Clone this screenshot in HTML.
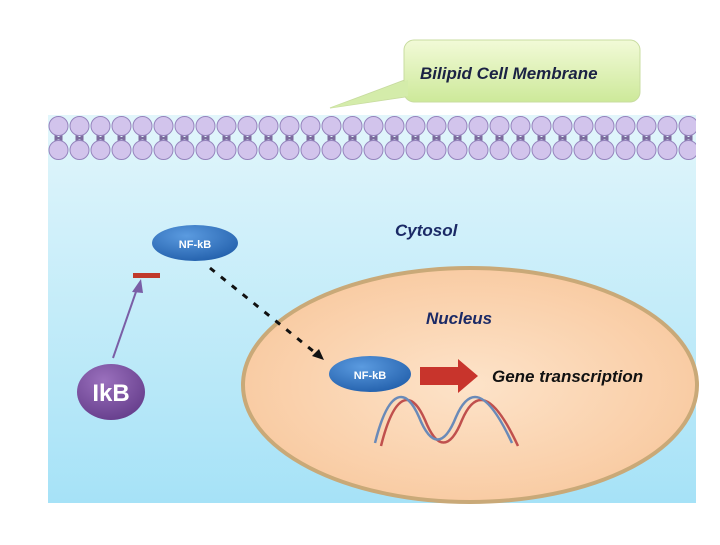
<!DOCTYPE html>
<html><head><style>body{margin:0;background:#fff}</style></head><body>
<svg width="720" height="540" xmlns="http://www.w3.org/2000/svg" font-family="Liberation Sans, sans-serif">
<defs>
<linearGradient id="bg" x1="0" y1="0" x2="0" y2="1"><stop offset="0" stop-color="#e2f6fb"/><stop offset="1" stop-color="#a6e2f7"/></linearGradient>
<radialGradient id="nuc" cx="0.5" cy="0.5" r="0.6"><stop offset="0" stop-color="#fde3c9"/><stop offset="1" stop-color="#f8c79c"/></radialGradient>
<linearGradient id="cal" x1="0" y1="0" x2="0" y2="1"><stop offset="0" stop-color="#f2fad8"/><stop offset="1" stop-color="#cde99a"/></linearGradient>
<radialGradient id="blue" cx="0.4" cy="0.3" r="0.8"><stop offset="0" stop-color="#5b9be0"/><stop offset="1" stop-color="#1f5ca8"/></radialGradient>
<radialGradient id="pur" cx="0.4" cy="0.3" r="0.8"><stop offset="0" stop-color="#9a70bd"/><stop offset="1" stop-color="#623a88"/></radialGradient>
<pattern id="lip" x="48" y="0" width="21" height="200" patternUnits="userSpaceOnUse">
<rect x="6.5" y="132" width="3" height="12" fill="#7d6c9e"/><rect x="11.5" y="132" width="3" height="12" fill="#7d6c9e"/><rect x="6.5" y="137" width="8" height="2.5" fill="#7d6c9e"/>
<circle cx="10.5" cy="126" r="9.5" fill="#d2c4ec" stroke="#9584bd" stroke-width="1"/>
<circle cx="10.5" cy="150" r="9.5" fill="#d2c4ec" stroke="#9584bd" stroke-width="1"/>
</pattern>
</defs>
<rect x="48" y="115" width="648" height="388" fill="url(#bg)"/>
<rect x="40" y="110" width="660" height="52" fill="url(#lip)"/>
<rect x="0" y="110" width="48" height="60" fill="#fff"/>
<rect x="696" y="110" width="30" height="60" fill="#fff"/>
<path d="M330,108 L410,78 L412,96 Z" fill="#d9efb1" stroke="#c8dca0"/>
<rect x="404" y="40" width="236" height="62" rx="10" fill="url(#cal)" stroke="#c8dca0"/>
<path d="M330,108 L408,80 L408,96 Z" fill="#d4ecaa"/>
<text x="420" y="79" font-size="17" font-weight="bold" font-style="italic" fill="#1b2244">Bilipid Cell Membrane</text>
<text x="395" y="236" font-size="17" font-weight="bold" font-style="italic" fill="#1b2a66">Cytosol</text>
<ellipse cx="470" cy="385" rx="227" ry="117" fill="url(#nuc)" stroke="#c9a978" stroke-width="4"/>
<text x="426" y="324" font-size="17" font-weight="bold" font-style="italic" fill="#1b2a66">Nucleus</text>
<ellipse cx="195" cy="243" rx="43" ry="18" fill="url(#blue)"/>
<text x="195" y="248" font-size="11" font-weight="bold" fill="#fff" text-anchor="middle">NF-kB</text>
<rect x="133" y="273" width="27" height="5" fill="#c0392b"/>
<line x1="113" y1="358" x2="138" y2="286" stroke="#7a5ea6" stroke-width="2"/>
<path d="M141,279 L132,292 L143,293 Z" fill="#7a5ea6"/>
<ellipse cx="111" cy="392" rx="34" ry="28" fill="url(#pur)"/>
<text x="111" y="401" font-size="24" font-weight="bold" fill="#fff" text-anchor="middle">IkB</text>
<line x1="210" y1="268" x2="318" y2="355" stroke="#111" stroke-width="3" stroke-dasharray="6,8"/>
<path d="M324,360 L312,356 L319,349 Z" fill="#111"/>
<ellipse cx="370" cy="374" rx="41" ry="18" fill="url(#blue)"/>
<text x="370" y="379" font-size="11" font-weight="bold" fill="#fff" text-anchor="middle">NF-kB</text>
<path d="M420,367 L458,367 L458,359 L478,376 L458,393 L458,385 L420,385 Z" fill="#c8342c"/>
<text x="492" y="382" font-size="17" font-weight="bold" font-style="italic" fill="#111">Gene transcription</text>
<path d="M381,446 C395,390 412,390 425,420 C437,450 450,450 462,420 C475,390 492,390 518,446" fill="none" stroke="#c0504d" stroke-width="2.5"/>
<path d="M375,443 C389,387 406,387 419,417 C431,447 444,447 456,417 C469,387 486,387 512,443" fill="none" stroke="#6a8ab8" stroke-width="2.5"/>
</svg>
</body></html>
